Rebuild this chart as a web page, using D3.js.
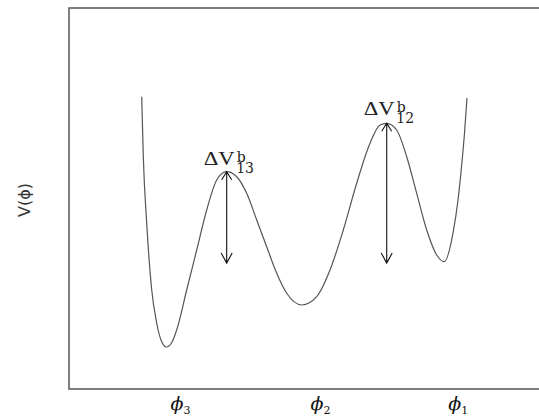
<!DOCTYPE html>
<html>
<head>
<meta charset="utf-8">
<script src="https://cdn.jsdelivr.net/npm/d3@7"></script>
<style>
	body { margin: 0; background: #fff; }
	svg { display: block; }
</style>
</head>
<body>
<div id="graph"></div>
<script>
// potential V(phi) (arbitrary units, 0..10 on both axes)
const phi = [
	1.547, 1.581, 1.653, 1.760, 1.866, 1.957, 2.074, 2.181, 2.291, 2.504,
	2.717, 2.930, 3.143, 3.355, 3.568, 3.781, 3.994, 4.206, 4.419, 4.632,
	4.957, 5.270, 5.553, 5.836, 6.121, 6.404, 6.617, 6.760, 6.972, 7.185,
	7.398, 7.611, 7.823, 7.985, 8.170, 8.277, 8.351, 8.415, 8.468
];
const V = [
	7.672, 6.097, 4.357, 2.598, 1.732, 1.286, 1.102, 1.207, 1.549, 2.598,
	3.648, 4.698, 5.486, 5.703, 5.572, 5.136, 4.436, 3.735, 3.037, 2.512,
	2.205, 2.423, 3.123, 4.173, 5.399, 6.449, 6.929, 6.974, 6.798, 6.097,
	5.136, 4.173, 3.517, 3.341, 4.094, 4.961, 5.827, 6.719, 7.638
];

// barriers: arrow from the top of the hump down to the lower level
const barrierNames = ['13', '12'];
const barrierPhi = [3.355, 6.760];
const barrierTop = [5.703, 6.974];
const barrierBottom = [3.307, 3.307];

// labels under the axis
const tickPhi = [2.36, 5.34, 8.27];
const tickSubs = ['3', '2', '1'];

const width = 539;
const height = 418;
const padLeft = 69;
const padTop = 8;
const padBottom = 389;

const x = d3.scaleLinear().domain([0, 10]).range([padLeft, width]);
const y = d3.scaleLinear().domain([0, 10]).range([padBottom, padTop]);

const svg = d3.select('#graph')
	.append('svg')
	.attr('width', width)
	.attr('height', height);

// frame: top, left and bottom only
svg.append('path')
	.attr('d', `M${width},${padTop}H${padLeft}V${padBottom}H${width}`)
	.attr('fill', 'none')
	.attr('stroke', '#555')
	.attr('stroke-width', 1.5);

const xAxis = d3.axisBottom(x)
	.tickValues(tickPhi)
	.tickSize(0)
	.tickFormat(() => '');

const gx = svg.append('g')
	.attr('transform', `translate(0, ${padBottom})`)
	.call(xAxis);
gx.select('.domain').remove();
gx.selectAll('.tick text')
	.attr('y', 21)
	.attr('dy', 0)
	.attr('font-family', 'DejaVu Serif')
	.attr('font-size', 19)
	.attr('fill', '#111')
	.each(function(d, i) {
		const t = d3.select(this);
		t.append('tspan').attr('font-style', 'italic').text('\u03D5');
		t.append('tspan').attr('font-size', 11).attr('dy', 4).text(tickSubs[i]);
	});

svg.append('text')
	.attr('transform', `translate(24, 200) rotate(-90)`)
	.attr('text-anchor', 'middle')
	.attr('dy', '0.35em')
	.attr('font-family', 'DejaVu Sans')
	.attr('font-size', 16)
	.attr('fill', '#333')
	.text('V(\u03D5)');

const line = d3.line()
	.x((d, i) => x(phi[i]))
	.y(d => y(d))
	.curve(d3.curveMonotoneX);

svg.append('path')
	.datum(V)
	.attr('d', line)
	.attr('fill', 'none')
	.attr('stroke', '#555')
	.attr('stroke-width', 1.2);

const bars = svg.selectAll('g.barrier')
	.data(barrierNames)
	.enter()
	.append('g')
	.attr('class', 'barrier');

bars.append('path')
	.attr('d', (d, i) => {
		const bx = x(barrierPhi[i]);
		const y0 = y(barrierTop[i]);
		const y1 = y(barrierBottom[i]);
		return `M${bx},${y0}V${y1}` +
			`M${bx - 5},${y0 + 8}L${bx},${y0}L${bx + 5},${y0 + 8}` +
			`M${bx - 5.5},${y1 - 10}L${bx},${y1}L${bx + 5.5},${y1 - 10}`;
	})
	.attr('fill', 'none')
	.attr('stroke', '#111')
	.attr('stroke-width', 1.1);

bars.append('text')
	.attr('x', (d, i) => x(barrierPhi[i]) - 23)
	.attr('y', (d, i) => y(barrierTop[i]) - (i ? 8.3 : 6.7))
	.attr('font-family', 'Liberation Serif')
	.attr('font-size', 19)
	.attr('fill', '#222')
	.attr('textLength', 31)
	.attr('lengthAdjust', 'spacingAndGlyphs')
	.text('\u0394V');

bars.append('text')
	.attr('x', (d, i) => x(barrierPhi[i]) + 10)
	.attr('y', (d, i) => y(barrierTop[i]) - (i ? 11.3 : 10))
	.attr('font-family', 'DejaVu Serif')
	.attr('font-size', 14)
	.attr('fill', '#222')
	.text('b');

bars.append('text')
	.attr('x', (d, i) => x(barrierPhi[i]) + 9.5)
	.attr('y', (d, i) => y(barrierTop[i]) + (i ? -0.6 : 1.4))
	.attr('font-family', 'DejaVu Serif')
	.attr('font-size', 14)
	.attr('fill', '#222')
	.text(d => d);
</script>
</body>
</html>
